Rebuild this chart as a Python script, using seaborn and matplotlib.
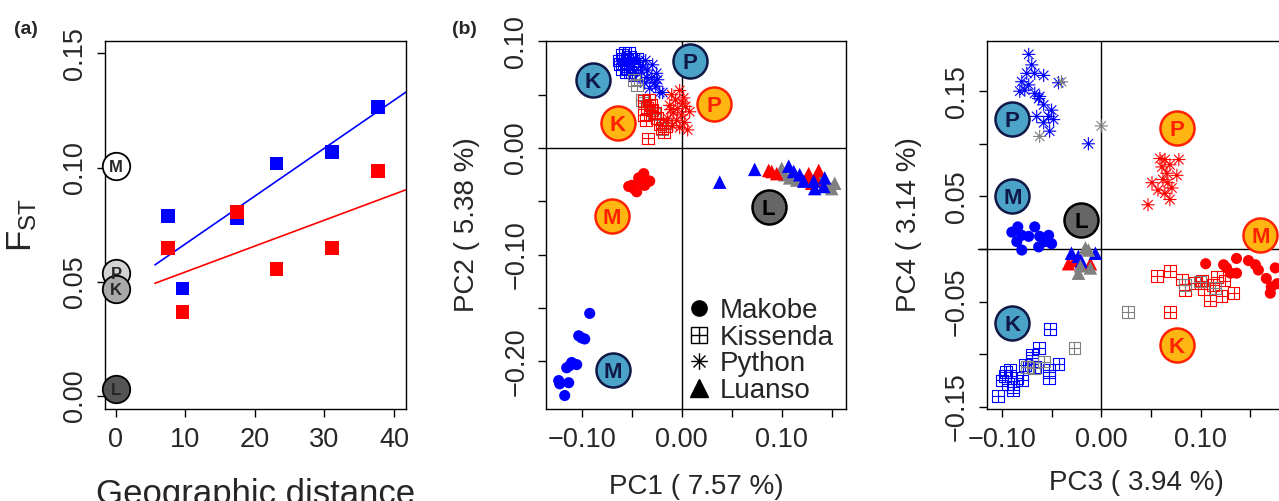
import numpy as np
import pandas as pd
import matplotlib
matplotlib.use("Agg")
import matplotlib.pyplot as plt
from matplotlib.path import Path
from matplotlib.lines import Line2D
import seaborn as sns

# ---------------- data: panel (a) ----------------
geo_dist = [7.5, 9.6, 17.4, 23.1, 31.1, 37.7]
fst_blue = [0.0787, 0.0470, 0.0780, 0.1017, 0.1067, 0.1264]
fst_red = [0.0649, 0.0367, 0.0805, 0.0557, 0.0649, 0.0984]
within_pop = ["M", "P", "K", "L"]
within_fst = [0.1008, 0.0539, 0.0469, 0.0029]
fit_range = [5.6, 42.0]

# ---------------- data: panel (b) PC1 vs PC2 ----------------
b_kissenda_blue = [(-0.063, 0.082), (-0.060, 0.087), (-0.057, 0.089), (-0.053, 0.089), (-0.052, 0.085),
                   (-0.058, 0.079), (-0.055, 0.075), (-0.052, 0.071), (-0.047, 0.068), (-0.048, 0.076),
                   (-0.062, 0.079), (-0.045, 0.084), (-0.055, 0.083), (-0.050, 0.080), (-0.059, 0.084),
                   (-0.056, 0.071), (-0.060, 0.074)]
b_kissenda_gray = [(-0.045, 0.059), (-0.048, 0.064), (-0.038, 0.042), (-0.028, 0.032), (-0.017, 0.023),
                   (-0.020, 0.018), (-0.040, 0.045)]
b_kissenda_red = [(-0.038, 0.044), (-0.033, 0.045), (-0.038, 0.031), (-0.030, 0.036), (-0.025, 0.028),
                  (-0.022, 0.022), (-0.018, 0.015), (-0.034, 0.009), (-0.035, 0.038), (-0.027, 0.033),
                  (-0.020, 0.019), (-0.031, 0.040), (-0.036, 0.026), (-0.016, 0.021)]
b_python_blue = [(-0.042, 0.082), (-0.039, 0.076), (-0.034, 0.073), (-0.030, 0.066), (-0.027, 0.061),
                 (-0.022, 0.052), (-0.037, 0.061), (-0.032, 0.056), (-0.025, 0.070), (-0.029, 0.078),
                 (-0.035, 0.066), (-0.040, 0.071), (-0.024, 0.064), (-0.019, 0.052), (-0.046, 0.084),
                 (-0.036, 0.082), (-0.026, 0.058)]
b_python_red = [(-0.010, 0.050), (-0.002, 0.054), (-0.006, 0.045), (0.002, 0.047), (-0.012, 0.040),
                (-0.004, 0.037), (0.004, 0.039), (-0.008, 0.033), (0.000, 0.031), (0.008, 0.034),
                (-0.014, 0.028), (-0.005, 0.026), (0.003, 0.024), (-0.002, 0.019), (-0.009, 0.021),
                (0.006, 0.017), (-0.011, 0.036), (0.001, 0.042)]
b_makobe_red = [(-0.038, -0.024), (-0.033, -0.031), (-0.042, -0.031), (-0.050, -0.035), (-0.053, -0.036),
                (-0.045, -0.041), (-0.048, -0.038), (-0.043, -0.028), (-0.032, -0.031), (-0.037, -0.035)]
b_makobe_blue = [(-0.092, -0.155), (-0.100, -0.178), (-0.097, -0.179), (-0.103, -0.176), (-0.110, -0.201),
                 (-0.105, -0.203), (-0.115, -0.206), (-0.112, -0.204), (-0.123, -0.218), (-0.113, -0.220),
                 (-0.117, -0.232), (-0.122, -0.221)]
b_luanso_blue = [(0.038, -0.032), (0.073, -0.020), (0.107, -0.017), (0.118, -0.025), (0.122, -0.031),
                 (0.143, -0.028), (0.142, -0.036), (0.133, -0.038), (0.132, -0.031), (0.112, -0.022)]
b_luanso_red = [(0.087, -0.021), (0.095, -0.024), (0.127, -0.024), (0.137, -0.021), (0.130, -0.033),
                (0.125, -0.028), (0.135, -0.030), (0.090, -0.022)]
b_luanso_gray = [(0.100, -0.019), (0.108, -0.028), (0.115, -0.030), (0.153, -0.033), (0.150, -0.038),
                 (0.138, -0.027), (0.103, -0.025), (0.146, -0.036)]
b_centroids = [("K", "blue", -0.089, 0.064), ("P", "blue", 0.008, 0.082), ("P", "orange", 0.032, 0.041),
               ("K", "orange", -0.064, 0.023), ("M", "orange", -0.070, -0.064), ("L", "gray", 0.087, -0.055),
               ("M", "blue", -0.069, -0.208)]

# ---------------- data: panel (c) PC3 vs PC4 ----------------
c_python_blue = [(-0.073, 0.185), (-0.070, 0.175), (-0.067, 0.167), (-0.075, 0.167), (-0.058, 0.165),
                 (-0.080, 0.159), (-0.073, 0.156), (-0.082, 0.150), (-0.067, 0.148), (-0.063, 0.143),
                 (-0.077, 0.151), (-0.058, 0.137), (-0.050, 0.132), (-0.053, 0.126), (-0.065, 0.126),
                 (-0.048, 0.123), (-0.058, 0.120), (-0.052, 0.112), (-0.043, 0.158), (-0.013, 0.100),
                 (-0.062, 0.145)]
c_python_gray = [(-0.040, 0.159), (-0.062, 0.107), (0.000, 0.117)]
c_python_red = [(0.059, 0.086), (0.064, 0.085), (0.078, 0.085), (0.069, 0.080), (0.061, 0.078),
                (0.076, 0.070), (0.066, 0.072), (0.051, 0.063), (0.062, 0.066), (0.071, 0.058),
                (0.057, 0.056), (0.064, 0.053), (0.069, 0.047), (0.047, 0.042), (0.067, 0.063)]
c_makobe_blue = [(-0.090, 0.016), (-0.084, 0.021), (-0.067, 0.021), (-0.080, 0.013), (-0.085, 0.007),
                 (-0.080, -0.001), (-0.073, 0.012), (-0.062, 0.012), (-0.053, 0.013), (-0.063, 0.002),
                 (-0.050, 0.005), (-0.057, 0.007)]
c_makobe_red = [(0.105, -0.014), (0.123, -0.015), (0.136, -0.009), (0.148, -0.011), (0.155, -0.015),
                (0.130, -0.023), (0.136, -0.023), (0.158, -0.020), (0.175, -0.018), (0.166, -0.028),
                (0.171, -0.036), (0.170, -0.042), (0.177, -0.033), (0.126, -0.018)]
c_luanso_blue = [(-0.030, -0.004), (-0.006, -0.004), (-0.020, -0.012), (-0.023, -0.007)]
c_luanso_red = [(-0.033, -0.014), (-0.011, -0.014), (-0.027, -0.011)]
c_luanso_gray = [(-0.016, 0.001), (-0.023, -0.023), (-0.011, -0.018), (-0.013, -0.001), (-0.021, -0.016)]
c_kissenda_blue = [(-0.052, -0.076), (-0.063, -0.094), (-0.070, -0.101), (-0.077, -0.110), (-0.043, -0.109),
                   (-0.053, -0.115), (-0.053, -0.123), (-0.070, -0.104), (-0.092, -0.115), (-0.097, -0.121),
                   (-0.085, -0.123), (-0.080, -0.125), (-0.100, -0.125), (-0.089, -0.134), (-0.104, -0.140),
                   (-0.094, -0.128), (-0.073, -0.112), (-0.067, -0.112), (-0.089, -0.131), (-0.096, -0.117)]
c_kissenda_gray = [(-0.027, -0.094), (-0.075, -0.112), (-0.058, -0.107), (-0.068, -0.113), (0.027, -0.060),
                   (0.084, -0.034), (0.099, -0.031), (0.114, -0.037)]
c_kissenda_red = [(0.056, -0.026), (0.069, -0.021), (0.081, -0.029), (0.084, -0.039), (0.103, -0.038),
                  (0.109, -0.049), (0.116, -0.027), (0.124, -0.030), (0.133, -0.042), (0.121, -0.045),
                  (0.101, -0.030), (0.069, -0.060), (0.112, -0.034), (0.094, -0.032)]
c_centroids = [("P", "blue", -0.0895, 0.124), ("M", "blue", -0.0895, 0.050), ("L", "gray", -0.020, 0.028),
               ("P", "orange", 0.076, 0.115), ("M", "orange", 0.160, 0.013), ("K", "blue", -0.0895, -0.070),
               ("K", "orange", 0.076, -0.091)]

legend_names = ["Makobe", "Kissenda", "Python", "Luanso"]

# ---------------- style ----------------
sns.set_style("ticks")
plt.rcParams["font.family"] = ["Liberation Sans", "DejaVu Sans"]
plt.rcParams["mathtext.fontset"] = "custom"
plt.rcParams["mathtext.rm"] = "Liberation Sans"
plt.rcParams["mathtext.it"] = "Liberation Sans:italic"

BLUE, RED, GRAY = "#0000FF", "#FF0000", "#808080"
CENT_STYLE = {"blue": ("#4BA3C8", "#101848"), "orange": ("#FFB612", "#FF2200"), "gray": ("#666666", "#000000")}

SQPLUS = Path([(-1, -1), (1, -1), (1, 1), (-1, 1), (-1, -1), (0, -1), (0, 1), (-1, 0), (1, 0)],
              [Path.MOVETO, Path.LINETO, Path.LINETO, Path.LINETO, Path.CLOSEPOLY,
               Path.MOVETO, Path.LINETO, Path.MOVETO, Path.LINETO])
_d = 0.72
ASTER = Path([(-1, 0), (1, 0), (0, -1), (0, 1), (-_d, -_d), (_d, _d), (-_d, _d), (_d, -_d)],
             [Path.MOVETO, Path.LINETO] * 4)

TICK_FS = 19.5
LAB_FS = 20

W, H = 1279, 501
fig = plt.figure(figsize=(W / 100, H / 100), dpi=100)


def axpos(l, t, w, h):
    return [l / W, 1 - (t + h) / H, w / W, h / H]


axa = fig.add_axes(axpos(105, 40.7, 300.7, 368.6))
axb = fig.add_axes(axpos(546, 40.7, 300.3, 368.6))
axc = fig.add_axes(axpos(986.7, 40.7, 300.3, 368.6))

for ax in (axa, axb, axc):
    for sp in ax.spines.values():
        sp.set_visible(True)
        sp.set_linewidth(1.0)
        sp.set_color("black")
    ax.tick_params(direction="out", length=6, width=1.0, labelsize=TICK_FS, color="black")
    ax.tick_params(axis="x", pad=7)
    ax.tick_params(axis="y", pad=6, labelrotation=90)


def pts(ax, data, marker, color, s, filled=True, lw=0.8, z=3):
    df = pd.DataFrame(data, columns=["x", "y"])
    if filled:
        sns.scatterplot(data=df, x="x", y="y", ax=ax, marker=marker, color=color, s=s,
                        linewidth=0, edgecolor="none", zorder=z, legend=False)
    else:
        sns.scatterplot(data=df, x="x", y="y", ax=ax, marker=marker, color=color, s=s,
                        facecolor="none", edgecolor=color, linewidth=lw, zorder=z, legend=False)


def centroids(ax, items, s=600, fs=16):
    for lab, kind, x, y in items:
        fc, ec = CENT_STYLE[kind]
        sns.scatterplot(x=[x], y=[y], ax=ax, s=s, color=fc, edgecolor=ec, linewidth=1.8,
                        zorder=10, legend=False, clip_on=False)
        ax.text(x, y, lab, ha="center", va="center_baseline", fontsize=fs, fontweight="bold",
                color=ec, zorder=11)


# ---------------- panel (a) ----------------
pts(axa, list(zip(geo_dist, fst_blue)), "s", BLUE, 95)
pts(axa, list(zip(geo_dist, fst_red)), "s", RED, 95)
xf = np.array(fit_range)
for yv, col in ((fst_blue, BLUE), (fst_red, RED)):
    k, b0 = np.polyfit(geo_dist, yv, 1)
    axa.plot(xf, k * xf + b0, color=col, lw=1.2, zorder=2)
wfill = {"M": "white", "P": "#D3D3D3", "K": "#A9A9A9", "L": "#555555"}
for lab, y in zip(within_pop, within_fst):
    sns.scatterplot(x=[0], y=[y], ax=axa, s=390, color=wfill[lab], edgecolor="black", linewidth=1.3,
                    zorder=10, legend=False, clip_on=False)
    axa.text(0, y, lab, ha="center", va="center_baseline", fontsize=12, fontweight="bold", zorder=11)
axa.set_xlim(-1.58, 41.7)
axa.set_ylim(-0.0058, 0.1555)
axa.set_xticks([0, 10, 20, 30, 40])
axa.set_yticks([0.0, 0.05, 0.10, 0.15])
axa.set_yticklabels(["0.00", "0.05", "0.10", "0.15"], va="center")
axa.set_xlabel("Geographic distance", fontsize=25, va="center")
axa.xaxis.set_label_coords(0.5, -0.23)
axa.set_ylabel(r"F$_{\mathrm{ST}}$", fontsize=25, va="center")
axa.yaxis.set_label_coords(-0.276, 0.5)
fig.text(26 / W, 1 - 30 / H, "(a)", fontsize=14, fontweight="bold", ha="center", va="center")

# ---------------- panel (b) ----------------
axb.axvline(0, color="black", lw=1.0, zorder=1)
axb.axhline(0, color="black", lw=1.0, zorder=1)
S_CIR, S_SQ, S_AST, S_TRI = 64, 72, 90, 95
pts(axb, b_kissenda_blue, SQPLUS, BLUE, S_SQ, filled=False)
pts(axb, b_python_blue, ASTER, BLUE, S_AST, filled=False)
pts(axb, b_kissenda_gray, SQPLUS, GRAY, S_SQ, filled=False)
pts(axb, b_kissenda_red, SQPLUS, RED, S_SQ, filled=False)
pts(axb, b_python_red, ASTER, RED, S_AST, filled=False)
pts(axb, b_makobe_red, "o", RED, S_CIR)
pts(axb, b_makobe_blue, "o", BLUE, S_CIR)
pts(axb, b_luanso_gray, "^", GRAY, S_TRI)
pts(axb, b_luanso_red, "^", RED, S_TRI)
pts(axb, b_luanso_blue, "^", BLUE, S_TRI)
centroids(axb, b_centroids)
axb.set_xlim(-0.1357, 0.1646)
axb.set_ylim(-0.2449, 0.1006)
axb.set_xticks([-0.10, -0.05, 0.0, 0.05, 0.10, 0.15])
axb.set_xticklabels(["\u22120.10", "", "0.00", "", "0.10", ""])
axb.set_yticks([-0.20, -0.15, -0.10, -0.05, 0.0, 0.05, 0.10])
axb.set_yticklabels(["\u22120.20", "", "\u22120.10", "", "0.00", "", "0.10"], va="center")
axb.set_xlabel("PC1 ( 7.57 %)", fontsize=LAB_FS, va="center")
axb.xaxis.set_label_coords(0.5, -0.21)
axb.set_ylabel("PC2 ( 5.38 %)", fontsize=LAB_FS, va="center")
axb.yaxis.set_label_coords(-0.263, 0.5)
fig.text(464 / W, 1 - 30 / H, "(b)", fontsize=14, fontweight="bold", ha="center", va="center")

handles = [
    Line2D([0], [0], ls="", marker="o", color="black", markersize=11),
    Line2D([0], [0], ls="", marker=SQPLUS, color="black", markerfacecolor="none", markersize=11, markeredgewidth=1.0),
    Line2D([0], [0], ls="", marker=ASTER, color="black", markerfacecolor="none", markersize=12, markeredgewidth=1.0),
    Line2D([0], [0], ls="", marker="^", color="black", markersize=13),
]
axb.legend(handles, legend_names, loc="upper left", bbox_to_anchor=(0.464, 0.302), frameon=False,
           fontsize=LAB_FS, borderpad=0, borderaxespad=0, handlelength=1.0, handletextpad=0.25,
           labelspacing=0.02)

# ---------------- panel (c) ----------------
axc.axvline(0, color="black", lw=1.0, zorder=1)
axc.plot([-0.1243, 0.19], [0, 0], color="black", lw=1.0, zorder=1, clip_on=False)
pts(axc, c_python_blue, ASTER, BLUE, S_AST, filled=False)
pts(axc, c_python_gray, ASTER, GRAY, S_AST, filled=False)
pts(axc, c_python_red, ASTER, RED, S_AST, filled=False)
pts(axc, c_makobe_blue, "o", BLUE, S_CIR)
pts(axc, c_makobe_red, "o", RED, S_CIR)
pts(axc, c_kissenda_blue, SQPLUS, BLUE, S_SQ, filled=False)
pts(axc, c_kissenda_red, SQPLUS, RED, S_SQ, filled=False)
pts(axc, c_kissenda_gray, SQPLUS, GRAY, S_SQ, filled=False)
pts(axc, c_luanso_red, "^", RED, S_TRI)
pts(axc, c_luanso_blue, "^", BLUE, S_TRI)
pts(axc, c_luanso_gray, "^", GRAY, S_TRI)
centroids(axc, c_centroids)
axc.set_xlim(-0.1153, 0.1868)
axc.set_ylim(-0.1524, 0.198)
axc.set_xticks([-0.10, -0.05, 0.0, 0.05, 0.10, 0.15])
axc.set_xticklabels(["\u22120.10", "", "0.00", "", "0.10", ""])
axc.set_yticks([-0.15, -0.10, -0.05, 0.0, 0.05, 0.10, 0.15])
axc.set_yticklabels(["\u22120.15", "", "\u22120.05", "", "0.05", "", "0.15"], va="center")
axc.set_xlabel("PC3 ( 3.94 %)", fontsize=LAB_FS, va="center")
axc.xaxis.set_label_coords(0.5, -0.20)
axc.set_ylabel("PC4 ( 3.14 %)", fontsize=LAB_FS, va="center")
axc.yaxis.set_label_coords(-0.26, 0.5)

fig.savefig("out.png", dpi=100)
